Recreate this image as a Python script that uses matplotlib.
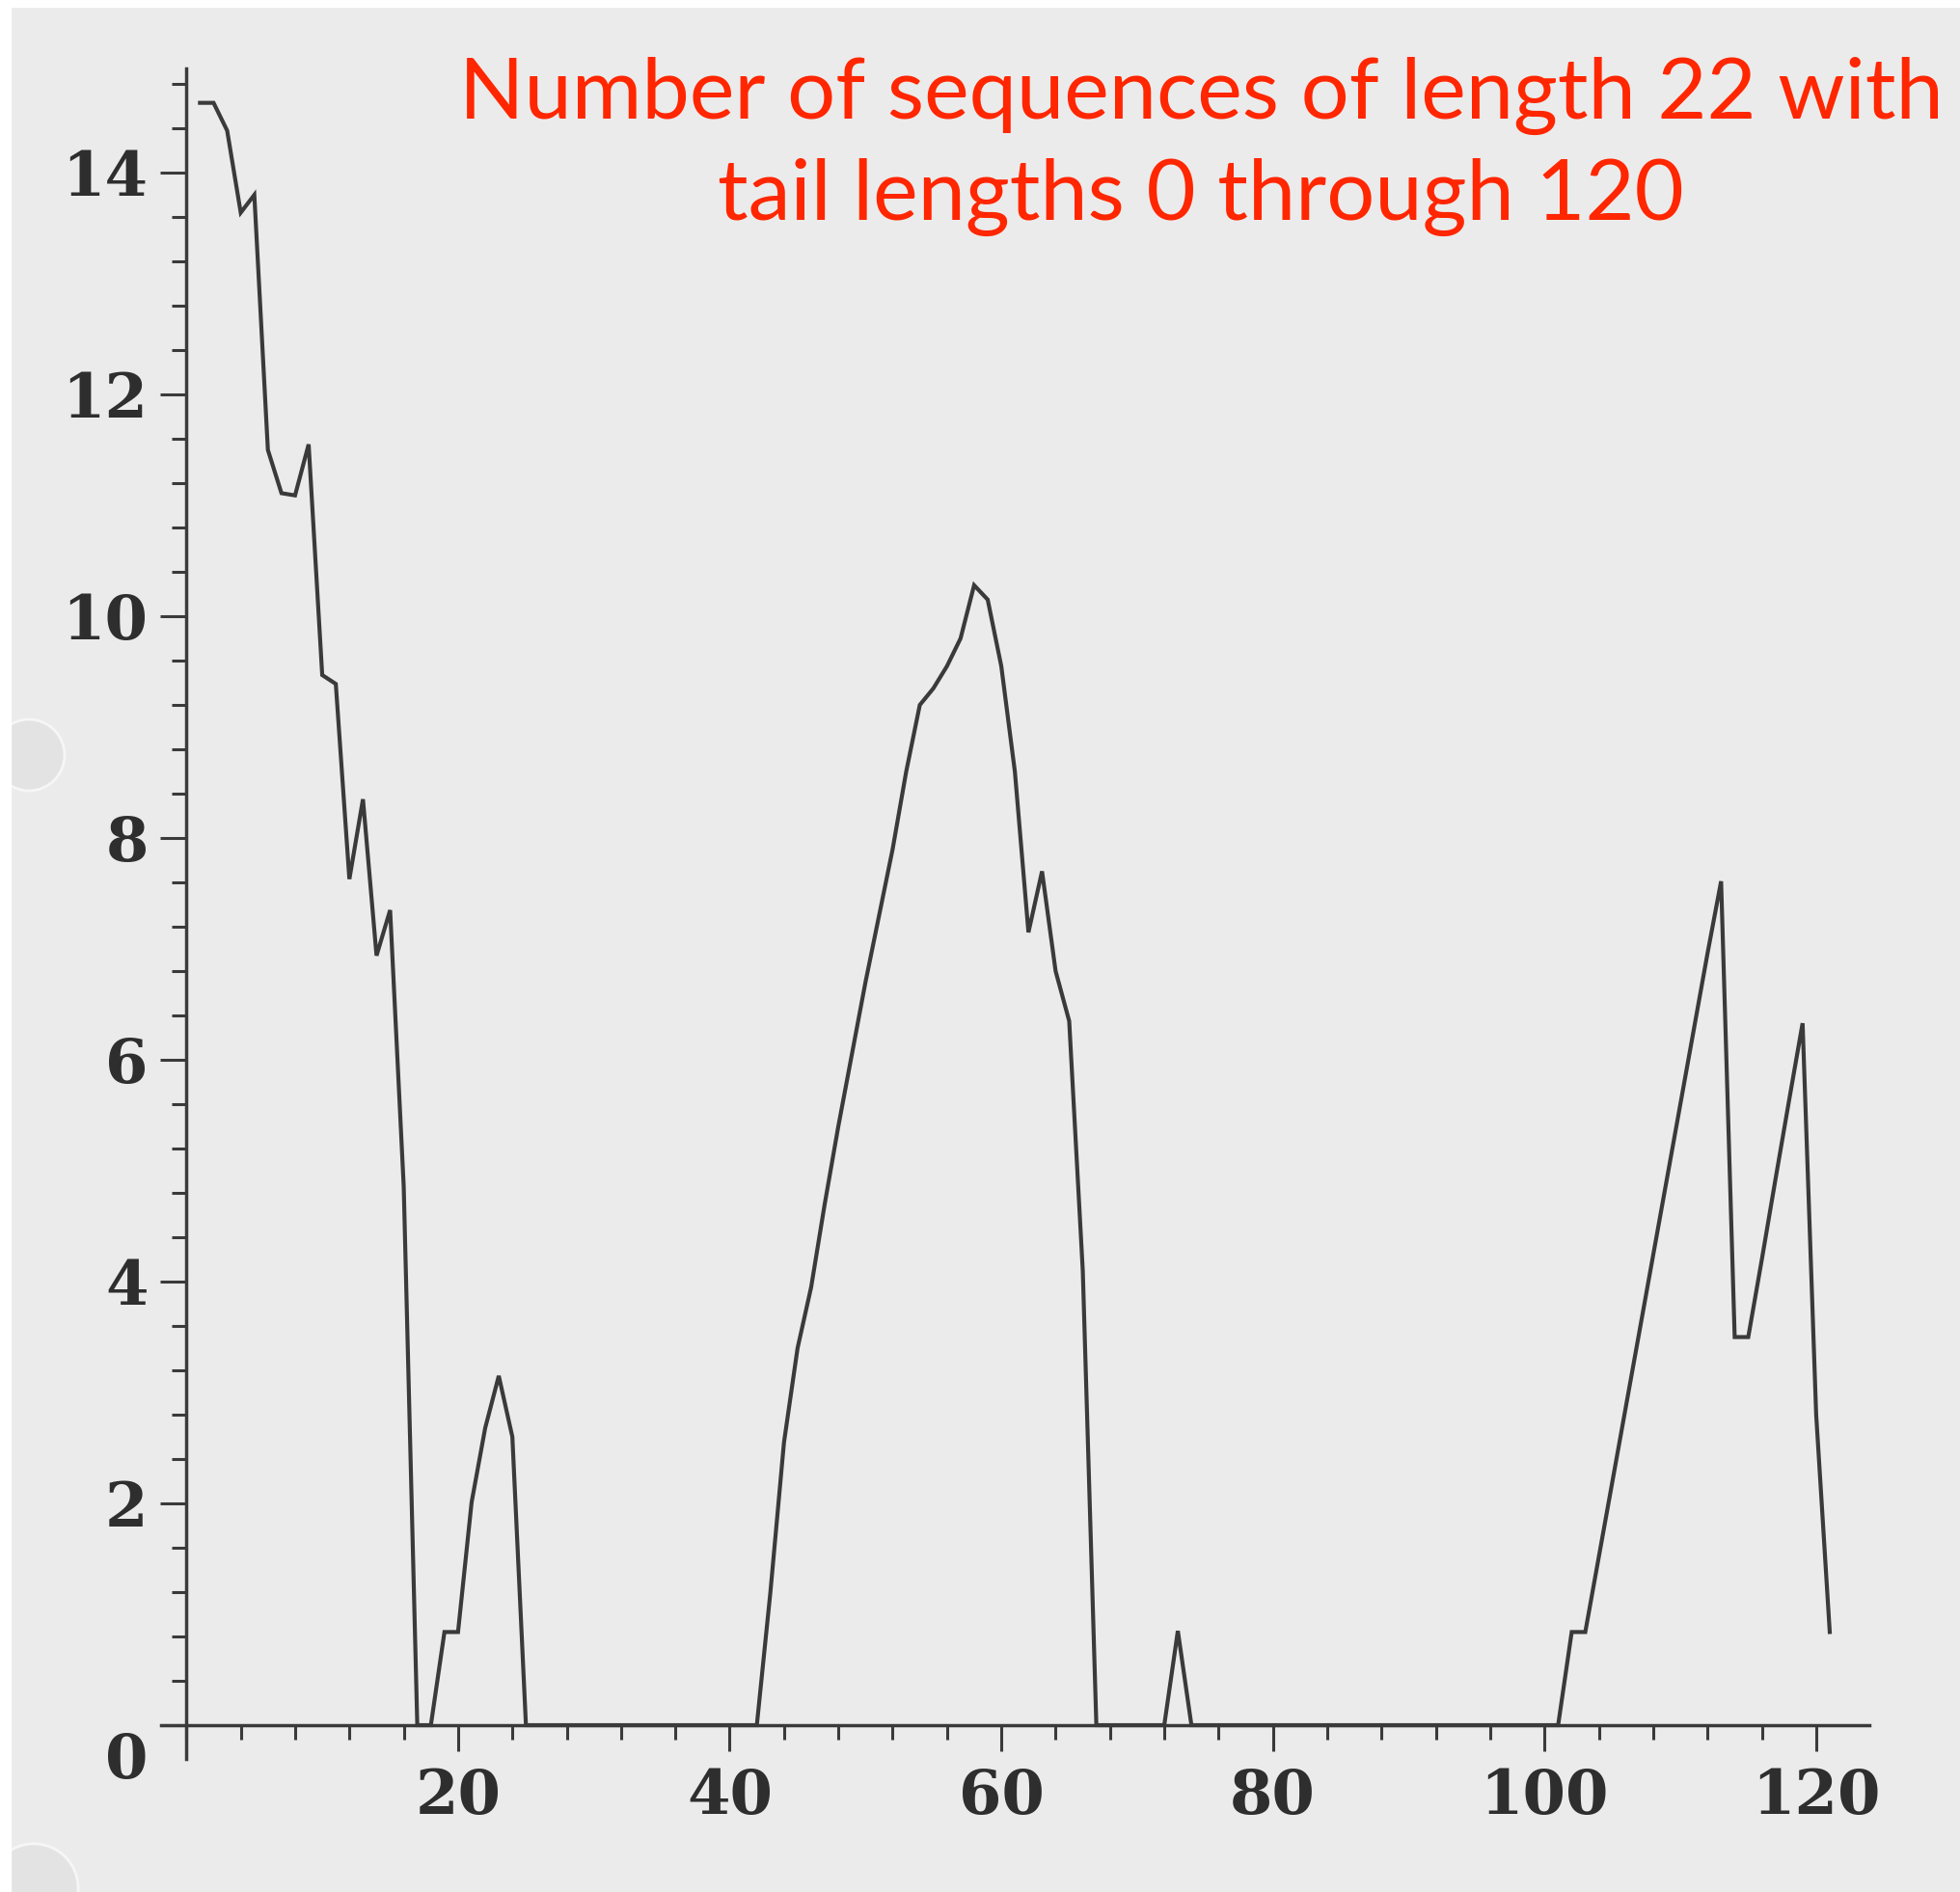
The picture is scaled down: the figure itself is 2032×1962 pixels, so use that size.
import numpy as np
import matplotlib
matplotlib.use('Agg')
import matplotlib.pyplot as plt
from matplotlib.patches import Rectangle, Ellipse

# tail length t is plotted at position t + 1 (Maple style list plot)
tail_lengths = list(range(0, 121))
positions = [t + 1 for t in tail_lengths]

# values (log scale counts), one per tail length
log_counts = [
    14.63, 14.63, 14.38, 13.64, 13.80, 11.50, 11.11, 11.09, 11.55, 9.47,
    9.39, 7.63, 8.35, 6.94, 7.35, 4.86, 0.00, 0.00, 0.84, 0.84,
    2.01, 2.68, 3.15, 2.60, 0.00, 0.00, 0.00, 0.00, 0.00, 0.00,
    0.00, 0.00, 0.00, 0.00, 0.00, 0.00, 0.00, 0.00, 0.00, 0.00,
    0.00, 0.00, 1.20, 2.55, 3.40, 3.95, 4.70, 5.40, 6.05, 6.70,
    7.30, 7.90, 8.60, 9.20, 9.35, 9.55, 9.80, 10.28, 10.15, 9.55,
    8.60, 7.15, 7.70, 6.80, 6.35, 4.10, 0.00, 0.00, 0.00, 0.00,
    0.00, 0.00, 0.85, 0.00, 0.00, 0.00, 0.00, 0.00, 0.00, 0.00,
    0.00, 0.00, 0.00, 0.00, 0.00, 0.00, 0.00, 0.00, 0.00, 0.00,
    0.00, 0.00, 0.00, 0.00, 0.00, 0.00, 0.00, 0.00, 0.00, 0.00,
    0.00, 0.84, 0.84, 1.52, 2.20, 2.88, 3.56, 4.24, 4.92, 5.60,
    6.28, 6.96, 7.61, 3.50, 3.50, 4.20, 4.92, 5.63, 6.33, 2.80,
    0.84,
]

x_major = [20, 40, 60, 80, 100, 120]
y_major = [0, 2, 4, 6, 8, 10, 12, 14]
y_labels = ['', '2', '4', '6', '8', '10', '12', '14']

title_lines = ['Number of sequences of length 22 with',
               'tail lengths 0 through 120']

W, H = 2033, 1962
ink = '#3a3a3a'

fig = plt.figure(figsize=(W / 100, H / 100), dpi=100)
fig.patch.set_facecolor('#ebebeb')

# punch holes on the scanned page
for cx, cy, r in [(30, 783, 37), (35, 1958, 46)]:
    fig.patches.append(Ellipse((cx / W, 1 - cy / H), 2 * r / W, 2 * r / H,
                               transform=fig.transFigure, facecolor='#e3e3e3',
                               edgecolor='#f6f6f6', lw=2, zorder=0))
# white scanner margins
fig.patches.append(Rectangle((0, 1 - 7 / H), 1, 7 / H, transform=fig.transFigure,
                             color='white', zorder=1))
fig.patches.append(Rectangle((0, 0), 11 / W, 1, transform=fig.transFigure,
                             color='white', zorder=1))

ax = fig.add_axes([166.5 / W, 1 - 1823.5 / H, (1937.8 - 166.5) / W, (1823.5 - 71) / H])
ax.set_facecolor('none')
ax.plot(positions, log_counts, color=ink, lw=3.0, solid_joinstyle='miter')

ax.set_xlim(-1.9, 123.9)
ax.set_ylim(-0.3, 14.94)
for s in ['top', 'right']:
    ax.spines[s].set_visible(False)
for s in ['left', 'bottom']:
    ax.spines[s].set_position(('data', 0))
    ax.spines[s].set_color(ink)
    ax.spines[s].set_linewidth(2.5)

ax.set_xticks(x_major)
ax.set_xticks(np.arange(0, 124, 4), minor=True)
ax.set_yticks(y_major)
ax.set_yticklabels(y_labels)
ax.set_yticks(np.arange(0, 14.9, 0.4), minor=True)

ax.tick_params(which='major', length=19.5, width=2.2, color=ink, direction='out')
ax.tick_params(which='minor', length=10.8, width=2.2, color=ink, direction='out')
ax.tick_params(axis='x', which='major', pad=12)
ax.tick_params(axis='y', which='major', pad=9)

for lab in ax.get_xticklabels() + ax.get_yticklabels():
    lab.set_family('DejaVu Serif')
    lab.set_weight('bold')
    lab.set_fontsize(46)
    lab.set_color('#2e2e2e')

ax.text(-4.4, -0.33, '0', ha='center', va='center', family='DejaVu Serif',
        weight='bold', fontsize=46, color='#2e2e2e')

# title, fitted to the width of the red Keynote caption
t1 = fig.text(1245 / W, 1 - 123 / H, title_lines[0], ha='center', va='baseline',
              color='#ff2600', family='Lato', fontsize=67)
t2 = fig.text(1245 / W, 1 - 228 / H, title_lines[1], ha='center', va='baseline',
              color='#ff2600', family='Lato', fontsize=67)
renderer = fig.canvas.get_renderer()
w1 = t1.get_window_extent(renderer).width
size = 67 * min(1.0, 1536 / w1)
t1.set_fontsize(size)
t2.set_fontsize(size)

fig.savefig('out.png', dpi=100, facecolor=fig.get_facecolor())
